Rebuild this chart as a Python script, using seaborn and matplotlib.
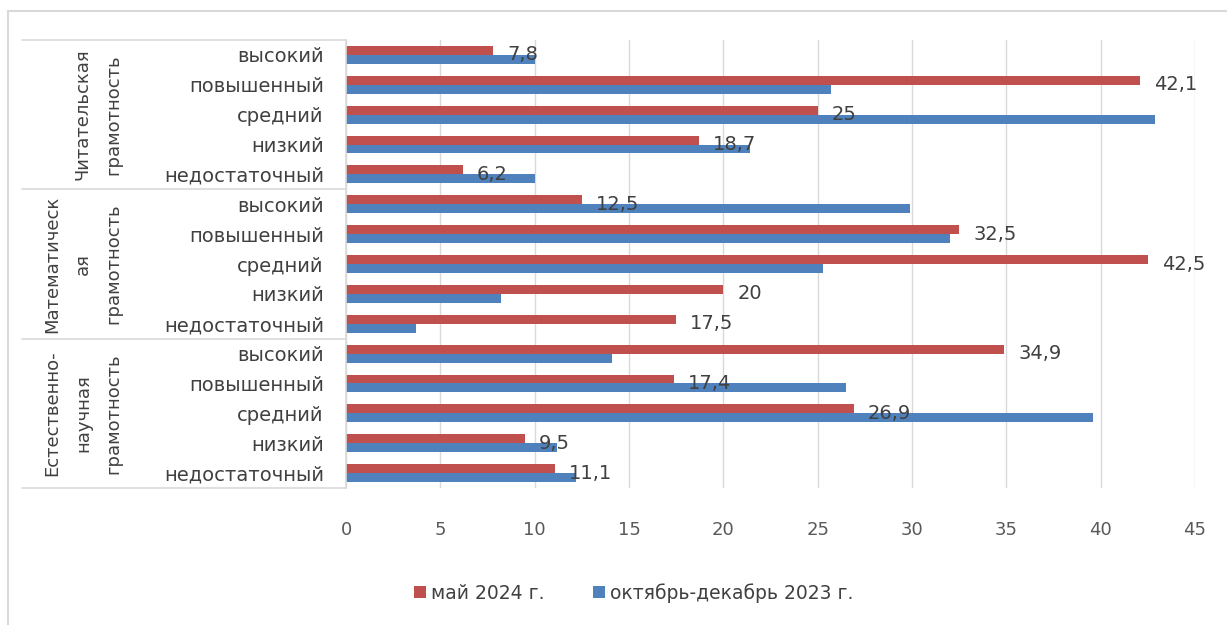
import pandas as pd
import matplotlib.pyplot as plt
import matplotlib.transforms as mtransforms
from matplotlib.lines import Line2D
import seaborn as sb

# данные
groups = ["Читательская\nграмотность", "Математическ\nая\nграмотность", "Естественно-\nнаучная\nграмотность"]
levels = ["высокий", "повышенный", "средний", "низкий", "недостаточный"]
series = ["май 2024 г.", "октябрь-декабрь 2023 г."]
may_2024 = [7.8, 42.1, 25, 18.7, 6.2,
            12.5, 32.5, 42.5, 20, 17.5,
            34.9, 17.4, 26.9, 9.5, 11.1]
oct_dec_2023 = [10.0, 25.7, 42.9, 21.4, 10.0,
                29.9, 32.0, 25.3, 8.2, 3.7,
                14.1, 26.5, 39.6, 11.2, 12.2]
x_ticks = [0, 5, 10, 15, 20, 25, 30, 35, 40, 45]

colors = ["#C0504D", "#4F81BD"]

rows = []
for gi, g in enumerate(groups):
    for li, lv in enumerate(levels):
        k = gi * len(levels) + li
        key = f"{gi}_{lv}"
        rows.append({"key": key, "series": series[0], "value": may_2024[k]})
        rows.append({"key": key, "series": series[1], "value": oct_dec_2023[k]})
df = pd.DataFrame(rows)
order = list(dict.fromkeys(df["key"]))

sb.set_style("white")
plt.rcParams["font.family"] = ["DejaVu Sans"]

fig = plt.figure(figsize=(12.27, 6.25), dpi=100)
ax = fig.add_axes([346 / 1227, 1 - 488 / 625, (1195 - 346) / 1227, (488 - 40) / 625])

sb.barplot(data=df, y="key", x="value", hue="series", order=order, hue_order=series,
           palette=colors, orient="h", width=0.6, saturation=1, linewidth=0,
           ax=ax, legend=True)

ax.set_xlim(0, 45)
ax.set_ylim(len(order) - 0.5, -0.5)
ax.set_xticks(x_ticks)
ax.set_xticklabels([str(t) for t in x_ticks], fontsize=13, color="#595959")
ax.tick_params(axis="x", length=0, pad=24)
ax.set_yticks(range(len(order)))
ax.set_yticklabels(levels * len(groups), fontsize=14, color="#404040")
ax.tick_params(axis="y", length=0, pad=16)
ax.set_xlabel("")
ax.set_ylabel("")
ax.grid(axis="x", color="#D9D9D9", linewidth=1)
ax.set_axisbelow(True)
for s in ["top", "right", "bottom"]:
    ax.spines[s].set_visible(False)
ax.spines["left"].set_color("#D9D9D9")
ax.spines["left"].set_linewidth(1.2)

# подписи значений (только для мая 2024)
for i, v in enumerate(may_2024):
    ax.annotate(f"{v:g}".replace(".", ","), xy=(v, i), xytext=(10, 0),
                textcoords="offset points", va="center", ha="left",
                fontsize=14, color="#404040")

# таблица слева: разделители и названия групп
tr = mtransforms.blended_transform_factory(fig.transFigure, ax.transData)
x0 = 22 / 1227
x1 = 346 / 1227
for yb in [-0.5, 4.5, 9.5, 14.5]:
    fig.add_artist(Line2D([x0, x1], [yb, yb], transform=tr, color="#D9D9D9", linewidth=1.2))
for gi, g in enumerate(groups):
    yc = gi * len(levels) + 2
    n = g.count("\n") + 1
    xc = 113 - (n - 1) * 30 / 2
    ax.text(xc / 1227, yc, g, transform=tr, rotation=90, ha="center", va="center",
            fontsize=13, color="#404040", linespacing=1.9, multialignment="center")

# легенда
handles, labels = ax.get_legend_handles_labels()
ax.legend(handles, labels, loc="center", bbox_to_anchor=(634 / 1227, 1 - 593 / 625),
          bbox_transform=fig.transFigure, ncol=2, frameon=False, fontsize=13.5,
          handlelength=0.6, handleheight=0.6, handletextpad=0.3, columnspacing=2.6,
          labelcolor="#404040")

# рамка диаграммы
fig.add_artist(Line2D([8 / 1227, 1], [1 - 11 / 625, 1 - 11 / 625], transform=fig.transFigure,
                      color="#D9D9D9", linewidth=1.5))
fig.add_artist(Line2D([8 / 1227, 8 / 1227], [0, 1 - 11 / 625], transform=fig.transFigure,
                      color="#D9D9D9", linewidth=1.5))

fig.savefig("out.png", dpi=100)
